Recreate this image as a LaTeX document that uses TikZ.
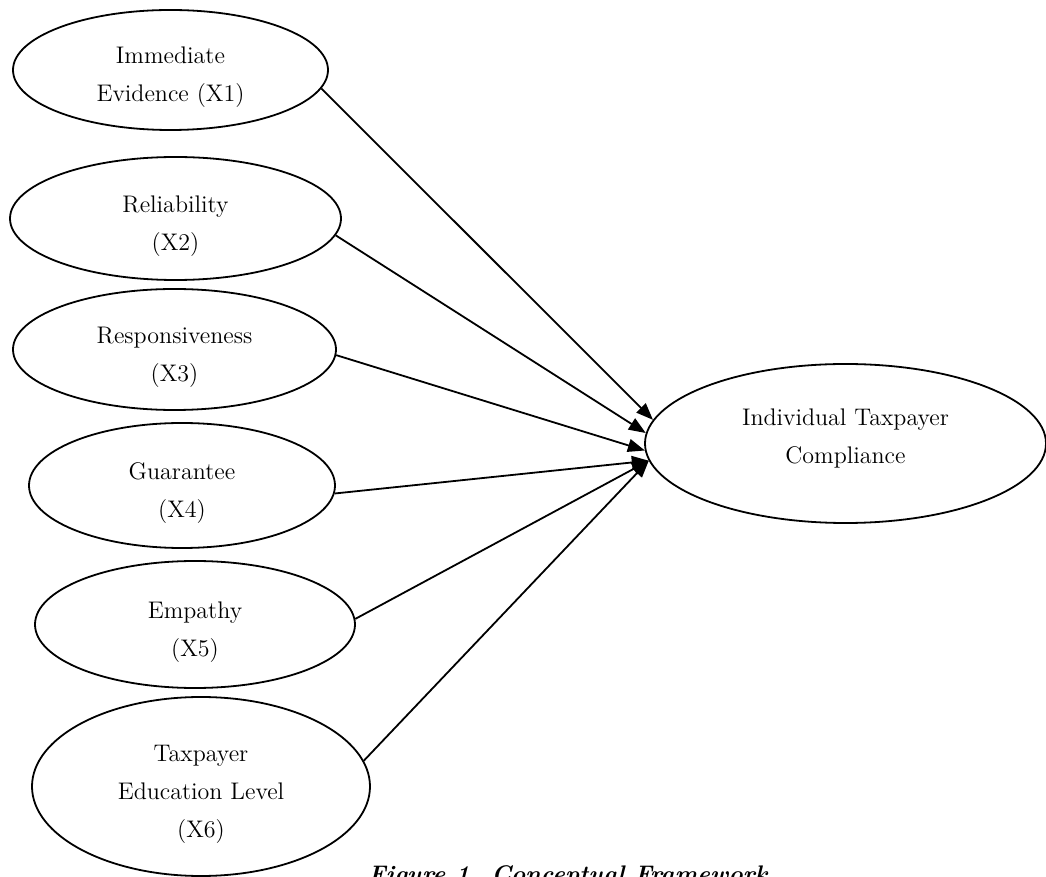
\documentclass[tikz,border=0pt]{standalone}
\usepackage{tikz}
\usetikzlibrary{arrows.meta,shapes.geometric}

\newcommand{\ellstrut}{\rule{0pt}{16pt}}
\newcommand{\ellfoot}{\rule[-7.3pt]{0pt}{0pt}}

\begin{document}
\begin{tikzpicture}[x=0.5pt,y=-0.5pt,
    every node/.style={font=\fontsize{12pt}{19pt}\selectfont},
    construct/.style={ellipse,draw,line width=0.9pt,align=center,inner sep=0pt},
    effect/.style={-{Triangle[length=8.5pt,width=6.5pt]},line width=0.9pt}]

  \useasboundingbox (0,0) rectangle (1046,877);

  % service quality dimensions
  \node[construct,minimum width=157.5pt,minimum height=60pt] (x1) at (170.5,70)
    {\ellstrut Immediate\\Evidence (X1)};
  \node[construct,minimum width=165.5pt,minimum height=61.5pt] (x2) at (175.5,218.5)
    {\ellstrut Reliability\\(X2)};
  \node[construct,minimum width=161.5pt,minimum height=60.5pt] (x3) at (174.5,349.5)
    {\ellstrut Responsiveness\\(X3)};
  \node[construct,minimum width=153pt,minimum height=62.5pt] (x4) at (182,485.5)
    {\ellstrut Guarantee\\(X4)};
  \node[construct,minimum width=160pt,minimum height=63.5pt] (x5) at (195,624.5)
    {\ellstrut Empathy\\(X5)};
  \node[construct,minimum width=169pt,minimum height=89.5pt] (x6) at (201,786.5)
    {\ellstrut Taxpayer\\Education Level\\(X6)};

  % dependent variable
  \node[construct,minimum width=200.5pt,minimum height=79.5pt] (y) at (845.5,443.5)
    {Individual Taxpayer\\Compliance\ellfoot};

  \node[font=\fontsize{12pt}{19pt}\selectfont\bfseries\itshape,anchor=base] (cap)
    at (568,882) {Figure 1. Conceptual Framework};

  \draw[effect] (x1.-7) -- (y.173);
  \draw[effect] (x2.-6) -- (y.177);
  \draw[effect] (x3.-2) -- (y.182);
  \draw[effect] (x4.-3) -- (y.185);
  \draw[effect] (x5.2)  -- (y.185);
  \draw[effect] (x6.9)  -- (y.185.5);

\end{tikzpicture}
\end{document}
